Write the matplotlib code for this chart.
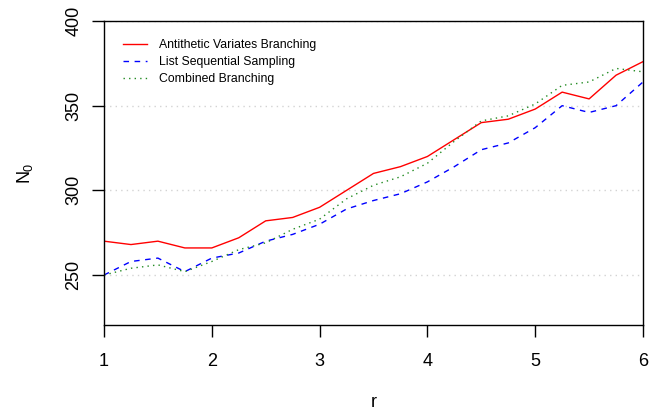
import numpy as np
import matplotlib
matplotlib.use('Agg')
import matplotlib.pyplot as plt

plt.rcParams['font.family'] = ['Liberation Sans', 'DejaVu Sans']
plt.rcParams['mathtext.fontset'] = 'custom'
plt.rcParams['mathtext.rm'] = 'Liberation Sans'
plt.rcParams['mathtext.it'] = 'Liberation Sans'

r = [1, 1.25, 1.5, 1.75, 2, 2.25, 2.5, 2.75, 3, 3.25, 3.5, 3.75, 4,
     4.25, 4.5, 4.75, 5, 5.25, 5.5, 5.75, 6]
antithetic = [270, 268, 270, 266, 266, 272, 282, 284, 290, 300, 310,
              314, 320, 330, 340, 342, 348, 358, 354, 368, 376]
list_seq = [250, 258, 260, 252, 260, 263, 270, 274, 280, 289, 294,
            298, 305, 314, 324, 328, 337, 350, 346, 350, 364]
combined = [250, 254, 256, 252, 258, 265, 269, 277, 283, 295, 303,
            308, 316, 329, 341, 344, 351, 362, 364, 372, 370]
labels = ['Antithetic Variates Branching', 'List Sequential Sampling',
          'Combined Branching']

fig = plt.figure(figsize=(6.59, 4.13), dpi=100)
ax = fig.add_axes([104 / 659, 1 - 325 / 413, 539 / 659, 304 / 413])

ax.plot(r, antithetic, color='red', lw=1, label=labels[0])
ax.plot(r, list_seq, color='blue', lw=1, ls=(0, (4, 4)), label=labels[1])
ax.plot(r, combined, color='forestgreen', lw=1, ls=(0, (1, 3)), label=labels[2])

ax.set_xlim(1, 6)
ax.set_ylim(220.5, 400)
ax.set_xticks([1, 2, 3, 4, 5, 6])
ax.set_yticks([250, 300, 350, 400])
ax.yaxis.grid(True, color='lightgray', ls=(0, (1, 3)), lw=1)
ax.set_axisbelow(True)

ax.tick_params(direction='out', length=8.5, width=1, labelsize=13, pad=12)
ax.tick_params(axis='y', pad=7)
for lab in ax.get_yticklabels():
    lab.set_rotation(90)
    lab.set_va('center')
for s in ax.spines.values():
    s.set_linewidth(1)

ax.set_xlabel('r', fontsize=13, labelpad=17)
ax.set_ylabel('$N_0$', fontsize=13, labelpad=22)

ax.legend(loc='upper left', frameon=False, fontsize=8.8, handlelength=2.0,
          handletextpad=1.0, labelspacing=0.42, bbox_to_anchor=(0.014, 0.977))

fig.savefig('out.png', dpi=100)
